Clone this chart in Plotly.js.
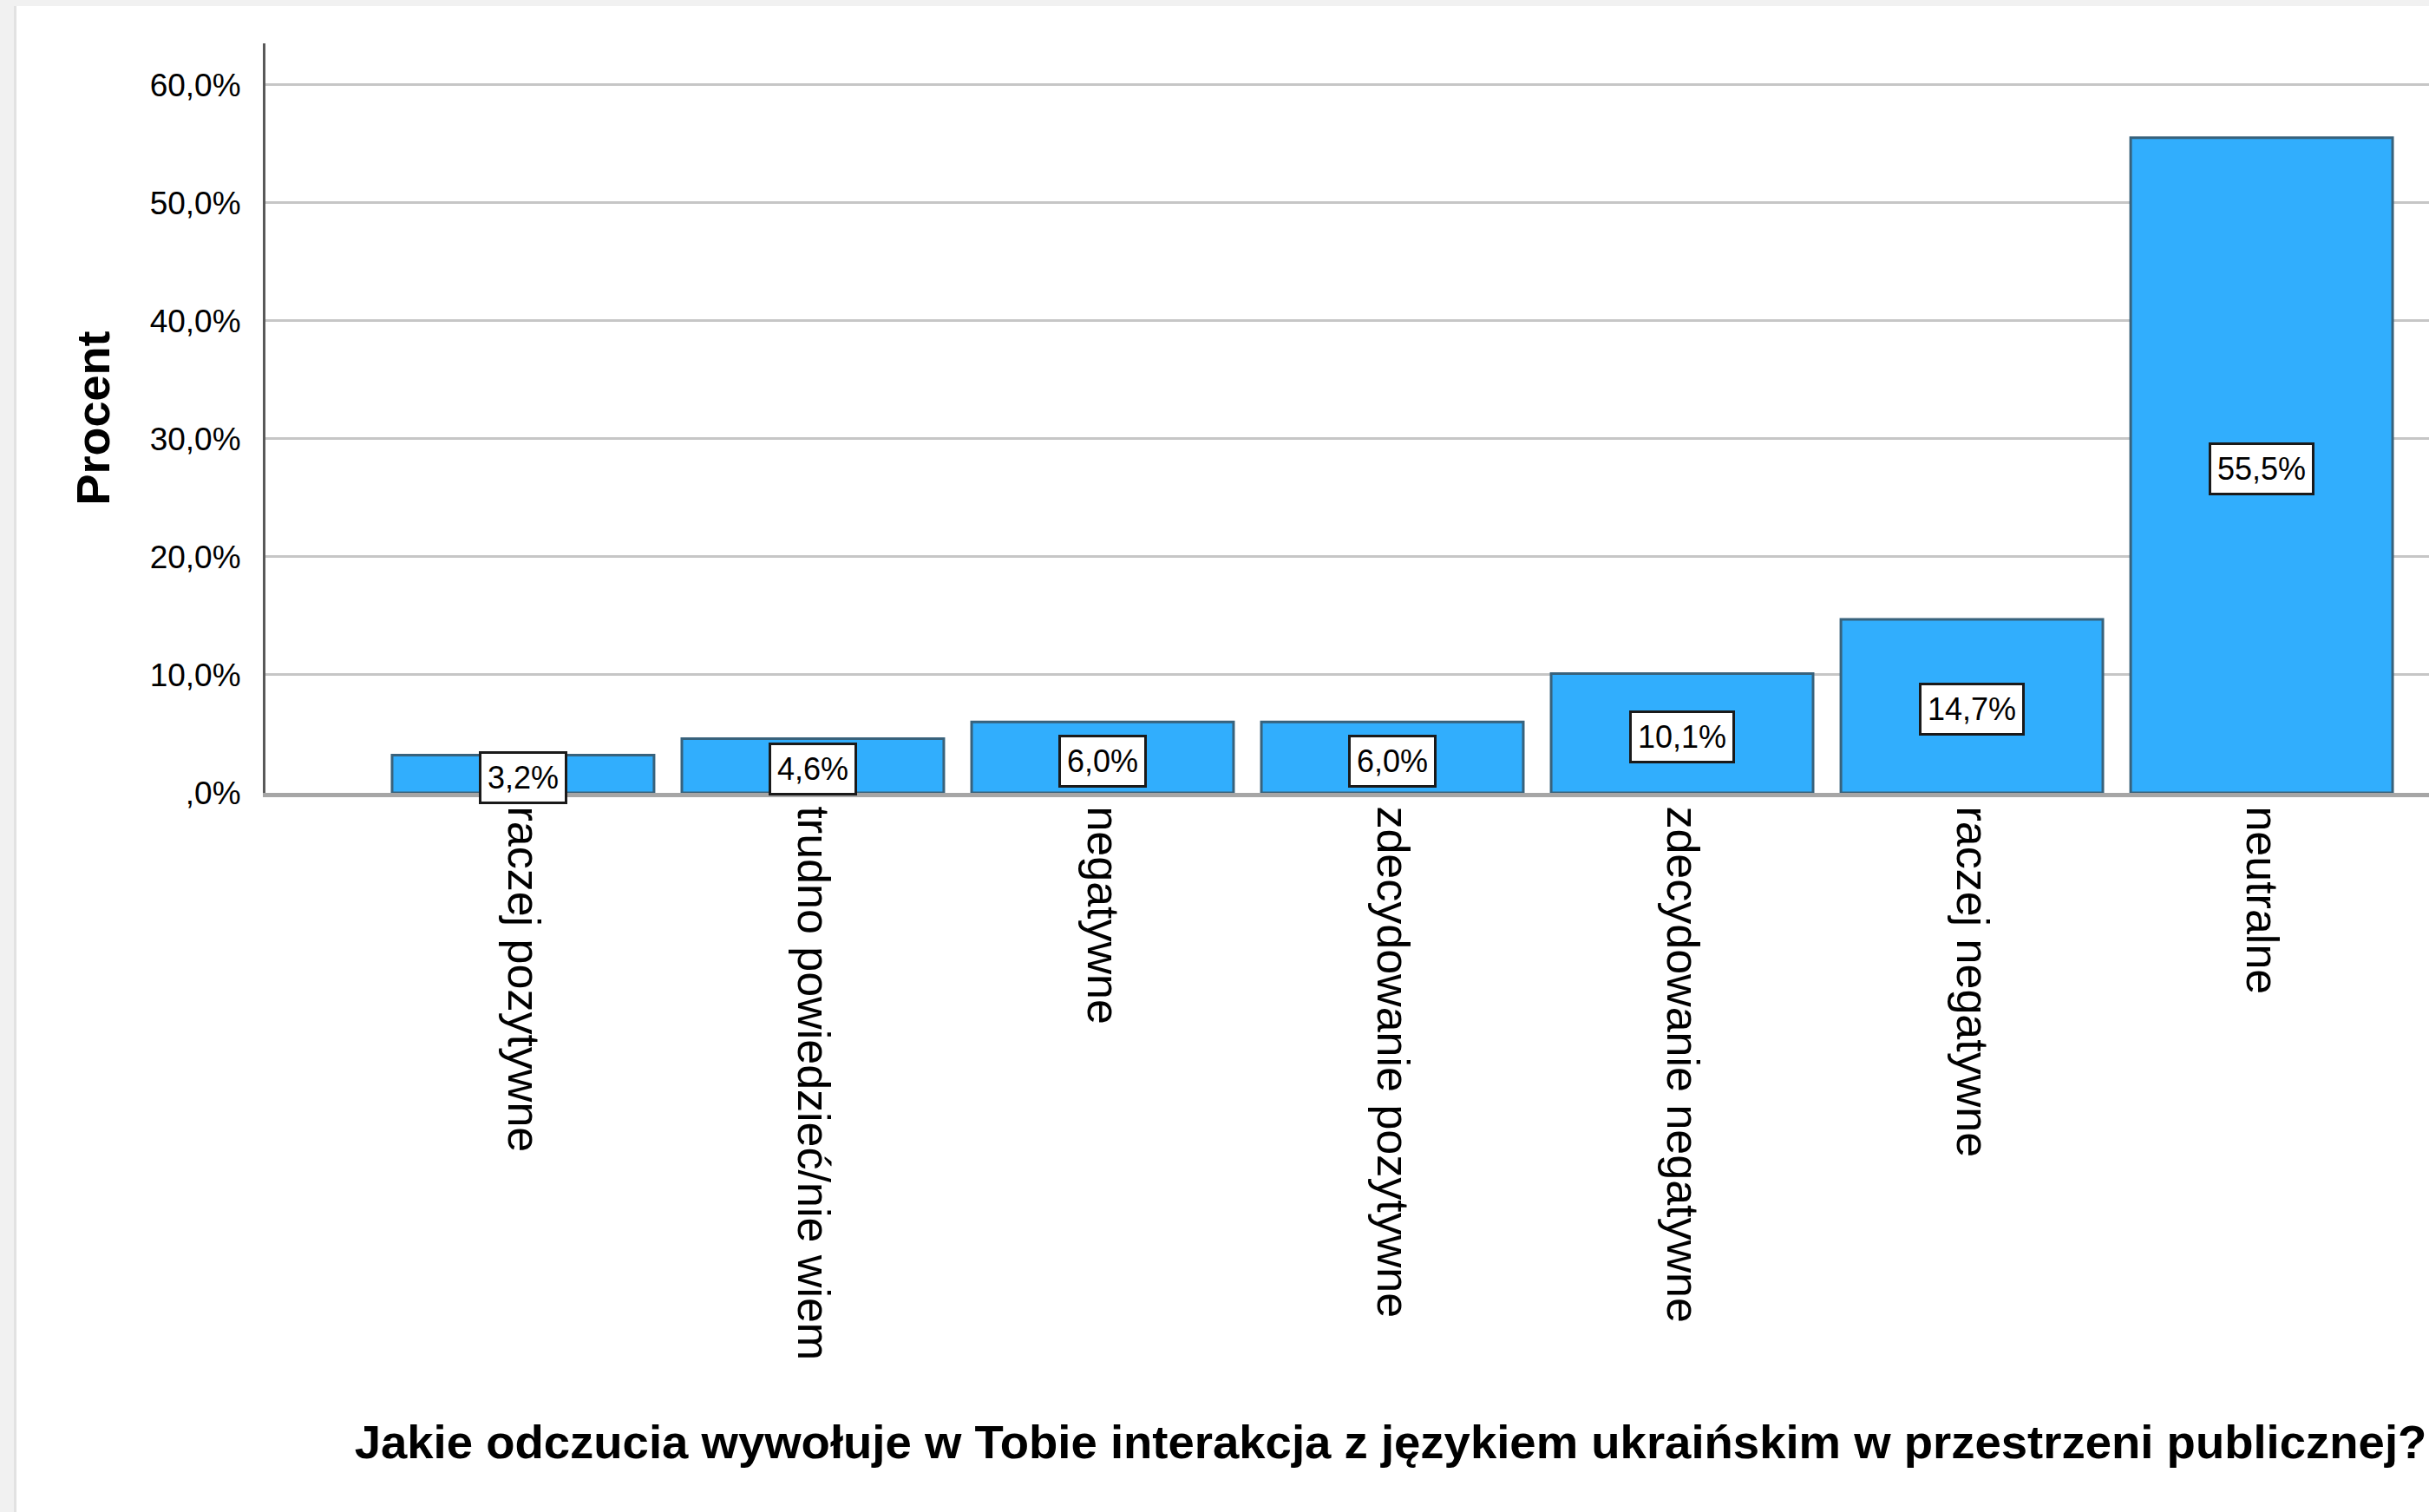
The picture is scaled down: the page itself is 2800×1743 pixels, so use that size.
<!DOCTYPE html>
<html>
<head>
<meta charset="utf-8">
<script src="https://cdn.plot.ly/plotly-3.0.1.min.js"></script>
<style>
  html, body { margin: 0; padding: 0; background: #f1f1f1; width: 2800px; height: 1743px; overflow: hidden; }
  #frame { position: absolute; left: 16px; top: 7px; width: 2784px; height: 1736px; border-left: 3px solid #e2e2e2; background: #ffffff; overflow: hidden; }
  #chart { position: absolute; left: 0; top: 0; width: 2881px; height: 1736px; }
</style>
</head>
<body>
<div id="frame"><div id="chart"></div></div>
<script>
// ---- data ----
const categories = [
  "raczej pozytywne",
  "trudno powiedzieć/nie wiem",
  "negatywne",
  "zdecydowanie pozytywne",
  "zdecydowanie negatywne",
  "raczej negatywne",
  "neutralne"
];
const percents = [3.2, 4.6, 6.0, 6.0, 10.1, 14.7, 55.5];
const yTickValues = [0, 10, 20, 30, 40, 50, 60];
const yTickLabels = [",0%", "10,0%", "20,0%", "30,0%", "40,0%", "50,0%", "60,0%"];
const xTitle = "Jakie odczucia wywołuje w Tobie interakcja z językiem ukraińskim w przestrzeni publicznej?";
const yTitle = "Procent";

// ---- chart ----
const FONT = "Arial, 'Liberation Sans', sans-serif";
const fmt = v => v.toFixed(1).replace('.', ',') + '%';

const trace = {
  type: 'bar',
  x: categories,
  y: percents,
  marker: { color: '#31aefd', line: { color: '#38627c', width: 3 } },
  hoverinfo: 'skip'
};

const labels = categories.map((c, i) => ({
  x: c, y: percents[i] / 2, xref: 'x', yref: 'y',
  text: fmt(percents[i]),
  showarrow: false,
  yshift: -4,
  bgcolor: '#ffffff',
  bordercolor: '#1a1a1a',
  borderwidth: 3,
  borderpad: 7,
  font: { family: FONT, size: 36, color: '#000000' }
}));

const layout = {
  width: 2881, height: 1736,
  paper_bgcolor: '#ffffff',
  plot_bgcolor: '#ffffff',
  margin: { l: 287, r: 0, t: 43, b: 829 },
  bargap: 0.096,
  showlegend: false,
  font: { family: FONT, color: '#000000' },
  xaxis: {
    type: 'category',
    range: [-0.889, 6.877],
    tickangle: 90,
    ticks: '',
    ticklabelstandoff: 0,
    tickfont: { family: FONT, size: 52, color: '#000000' },
    showgrid: false,
    showline: true, linecolor: '#a6a6a6', linewidth: 5,
    zeroline: false,
    title: { text: xTitle, font: { family: FONT, size: 54.5, color: '#000000', weight: 'bold' }, standoff: 77 },
    automargin: false
  },
  yaxis: {
    range: [0, 63.5],
    tickvals: yTickValues,
    ticktext: yTickLabels,
    ticks: '',
    ticklabelstandoff: 18,
    tickfont: { family: FONT, size: 37, color: '#000000' },
    showgrid: true, gridcolor: '#c6c6c6', gridwidth: 3,
    zeroline: false,
    showline: true, linecolor: '#595959', linewidth: 3,
    title: { text: yTitle, font: { family: FONT, size: 54, color: '#000000', weight: 'bold' }, standoff: 29 },
    automargin: false
  },
  annotations: labels
};

Plotly.newPlot('chart', [trace], layout, { displayModeBar: false, staticPlot: true });
</script>
</body>
</html>
